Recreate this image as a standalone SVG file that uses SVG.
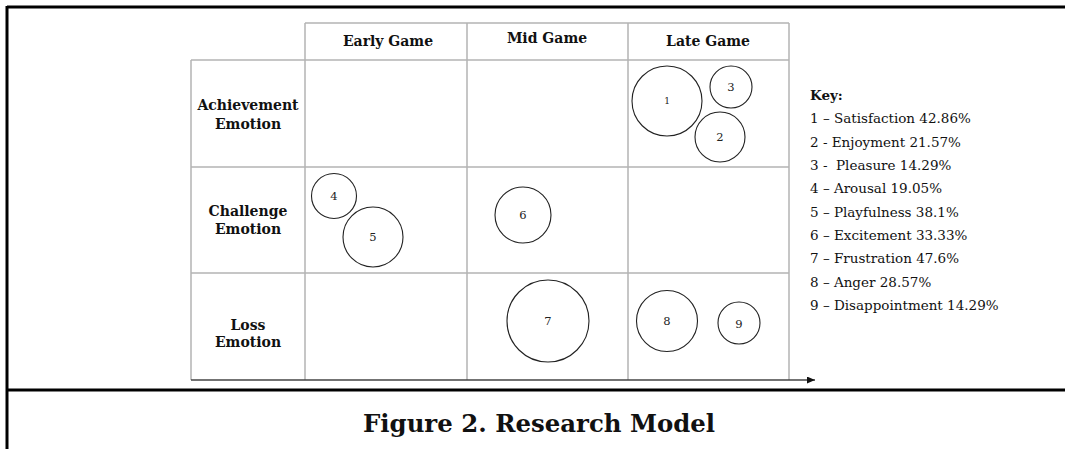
<svg xmlns="http://www.w3.org/2000/svg" width="1065" height="449" viewBox="0 0 1065 449">
  <style>
    .grid { stroke: #b3b3b3; stroke-width: 1.5; fill: none; }
    .frame { stroke: #000; stroke-width: 3; fill: none; }
    .bubble { fill: none; stroke: #222; stroke-width: 1.1; }
    .hdr { font-family: "DejaVu Serif", "Liberation Serif", serif; font-weight: bold; font-size: 14px; fill: #111; text-anchor: middle; }
    .num { font-family: "DejaVu Serif", "Liberation Serif", serif; font-size: 11.5px; fill: #222; text-anchor: middle; }
    .key { font-family: "DejaVu Serif", "Liberation Serif", serif; font-size: 13.5px; fill: #111; }
    .cap { font-family: "DejaVu Serif", "Liberation Serif", serif; font-weight: bold; font-size: 24.4px; fill: #111; }
  </style>
  <defs>
    <marker id="arrow" markerWidth="8" markerHeight="7" refX="8" refY="3.5" orient="auto" markerUnits="userSpaceOnUse">
      <path d="M0,0 L8,3.5 L0,7 Z" fill="#111"/>
    </marker>
  </defs>

  <rect width="1065" height="449" fill="#fff"/>

  <!-- outer frame -->
  <g id="frame">
    <line class="frame" x1="7" y1="7" x2="1065" y2="7"/>
    <line class="frame" x1="7" y1="6" x2="7" y2="449"/>
    <line class="frame" x1="7" y1="390" x2="1065" y2="390"/>
  </g>

  <!-- table grid -->
  <g id="grid">
    <line class="grid" x1="305" y1="23" x2="789" y2="23"/>
    <line class="grid" x1="191" y1="60" x2="789" y2="60"/>
    <line class="grid" x1="191" y1="167" x2="789" y2="167"/>
    <line class="grid" x1="191" y1="273" x2="789" y2="273"/>
    <line class="grid" x1="191" y1="60" x2="191" y2="380"/>
    <line class="grid" x1="305" y1="23" x2="305" y2="380"/>
    <line class="grid" x1="467" y1="23" x2="467" y2="380"/>
    <line class="grid" x1="628" y1="23" x2="628" y2="380"/>
    <line class="grid" x1="789" y1="23" x2="789" y2="380"/>
  </g>

  <!-- time axis -->
  <g id="connectors">
    <line x1="191" y1="380" x2="815" y2="380" stroke="#444" stroke-width="1.5" marker-end="url(#arrow)"/>
  </g>

  <!-- column headers -->
  <g id="col-early"><text class="hdr" x="388" y="46">Early Game</text></g>
  <g id="col-mid"><text class="hdr" x="547" y="43">Mid Game</text></g>
  <g id="col-late"><text class="hdr" x="708" y="46">Late Game</text></g>

  <!-- row headers -->
  <g id="row-achievement">
    <text class="hdr" x="248" y="110">Achievement</text>
    <text class="hdr" x="248" y="129">Emotion</text>
  </g>
  <g id="row-challenge">
    <text class="hdr" x="248" y="216">Challenge</text>
    <text class="hdr" x="248" y="234">Emotion</text>
  </g>
  <g id="row-loss">
    <text class="hdr" x="248" y="330">Loss</text>
    <text class="hdr" x="248" y="347">Emotion</text>
  </g>

  <!-- emotion bubbles -->
  <g id="e1"><circle class="bubble" cx="667" cy="101" r="35"/><text class="num" x="667" y="104" style="font-size:9px">1</text></g>
  <g id="e2"><circle class="bubble" cx="720" cy="137" r="25"/><text class="num" x="720" y="141">2</text></g>
  <g id="e3"><circle class="bubble" cx="731" cy="87" r="21"/><text class="num" x="731" y="91">3</text></g>
  <g id="e4"><circle class="bubble" cx="334" cy="196" r="22.5"/><text class="num" x="334" y="200">4</text></g>
  <g id="e5"><circle class="bubble" cx="373" cy="237" r="30"/><text class="num" x="373" y="241">5</text></g>
  <g id="e6"><circle class="bubble" cx="523" cy="215" r="28"/><text class="num" x="523" y="219">6</text></g>
  <g id="e7"><circle class="bubble" cx="548" cy="321" r="41"/><text class="num" x="548" y="325">7</text></g>
  <g id="e8"><circle class="bubble" cx="667" cy="321" r="30.5"/><text class="num" x="667" y="325">8</text></g>
  <g id="e9"><circle class="bubble" cx="739" cy="323" r="21"/><text class="num" x="739" y="328">9</text></g>

  <!-- legend -->
  <g id="key">
    <text class="key" x="810" y="100" font-weight="bold">Key:</text>
    <text class="key" x="810" y="123">1 – Satisfaction 42.86%</text>
    <text class="key" x="810" y="147">2 - Enjoyment 21.57%</text>
    <text class="key" x="810" y="170" xml:space="preserve">3 -  Pleasure 14.29%</text>
    <text class="key" x="810" y="193">4 – Arousal 19.05%</text>
    <text class="key" x="810" y="217">5 – Playfulness 38.1%</text>
    <text class="key" x="810" y="240">6 – Excitement 33.33%</text>
    <text class="key" x="810" y="263">7 – Frustration 47.6%</text>
    <text class="key" x="810" y="287">8 – Anger 28.57%</text>
    <text class="key" x="810" y="310">9 – Disappointment 14.29%</text>
  </g>

  <!-- caption -->
  <g id="caption">
    <text class="cap" x="363" y="432">Figure 2. Research Model</text>
  </g>
</svg>
